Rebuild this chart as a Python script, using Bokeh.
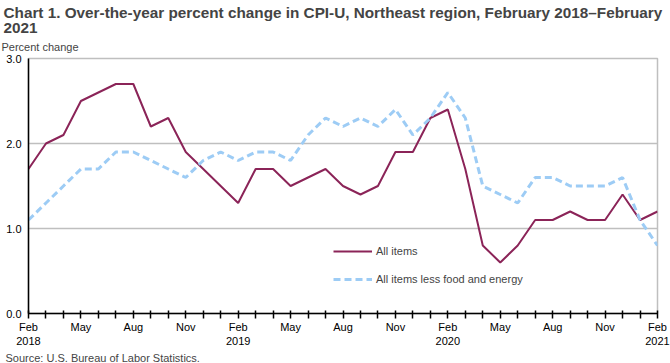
from bokeh.plotting import figure
from bokeh.models import (ColumnDataSource, FixedTicker, Range1d, Title, Legend, LegendItem,
                          NumeralTickFormatter)
from bokeh.embed import file_html
from bokeh.resources import INLINE

# ---- data ----
months = ["Feb 2018", "Mar 2018", "Apr 2018", "May 2018", "Jun 2018", "Jul 2018", "Aug 2018",
          "Sep 2018", "Oct 2018", "Nov 2018", "Dec 2018", "Jan 2019", "Feb 2019", "Mar 2019",
          "Apr 2019", "May 2019", "Jun 2019", "Jul 2019", "Aug 2019", "Sep 2019", "Oct 2019",
          "Nov 2019", "Dec 2019", "Jan 2020", "Feb 2020", "Mar 2020", "Apr 2020", "May 2020",
          "Jun 2020", "Jul 2020", "Aug 2020", "Sep 2020", "Oct 2020", "Nov 2020", "Dec 2020",
          "Jan 2021", "Feb 2021"]
all_items = [1.7, 2.0, 2.1, 2.5, 2.6, 2.7, 2.7, 2.2, 2.3, 1.9, 1.7, 1.5, 1.3, 1.7, 1.7, 1.5,
             1.6, 1.7, 1.5, 1.4, 1.5, 1.9, 1.9, 2.3, 2.4, 1.7, 0.8, 0.6, 0.8, 1.1, 1.1, 1.2,
             1.1, 1.1, 1.4, 1.1, 1.2]
core = [1.1, 1.3, 1.5, 1.7, 1.7, 1.9, 1.9, 1.8, 1.7, 1.6, 1.8, 1.9, 1.8, 1.9, 1.9, 1.8,
        2.1, 2.3, 2.2, 2.3, 2.2, 2.4, 2.1, 2.3, 2.6, 2.3, 1.5, 1.4, 1.3, 1.6, 1.6, 1.5,
        1.5, 1.5, 1.6, 1.1, 0.8]
x_tick_labels = {0: "Feb\n2018", 3: "May", 6: "Aug", 9: "Nov", 12: "Feb\n2019", 15: "May",
                 18: "Aug", 21: "Nov", 24: "Feb\n2020", 27: "May", 30: "Aug", 33: "Nov",
                 36: "Feb\n2021"}
y_ticks = [0, 1, 2, 3]

FONT = "Liberation Sans"
MAROON = "#8B2458"
BLUE = "#9DCCF5"

src = ColumnDataSource(dict(x=list(range(len(months))), month=months, all=all_items, core=core))

p = figure(width=670, height=363, output_backend="svg", toolbar_location=None,
           x_range=Range1d(0, len(months) - 1), y_range=Range1d(0, 3),
           min_border_left=28, min_border_right=13, min_border_top=58, min_border_bottom=49)
p.background_fill_color = "white"
p.border_fill_color = "white"
p.outline_line_color = "#BFBFBF"
p.outline_line_width = 1.5

l1 = p.line("x", "all", source=src, line_color=MAROON, line_width=2)
l2 = p.line("x", "core", source=src, line_color=BLUE, line_width=3, line_dash="7 4")

# axes
xa = p.xaxis[0]
xa.ticker = FixedTicker(ticks=list(range(len(months))))
xa.major_label_overrides = {i: x_tick_labels.get(i, "") for i in range(len(months))}
xa.major_tick_in = 3
xa.major_tick_out = 5
xa.minor_tick_line_color = None
xa.axis_line_color = "black"
xa.axis_line_width = 1.5
xa.major_tick_line_color = "black"
xa.major_tick_line_width = 1.5
xa.major_label_text_font = FONT
xa.major_label_text_font_size = "11px"
xa.major_label_text_color = "black"
xa.major_label_standoff = 2

ya = p.yaxis[0]
ya.ticker = FixedTicker(ticks=y_ticks)
ya.formatter = NumeralTickFormatter(format="0.0")
ya.major_tick_in = 0
ya.major_tick_out = 0
ya.minor_tick_line_color = None
ya.axis_line_color = "black"
ya.axis_line_width = 1.5
ya.major_label_text_font = FONT
ya.major_label_text_font_size = "11px"
ya.major_label_text_color = "black"
ya.major_label_standoff = 7

p.xgrid.grid_line_color = None
p.ygrid.ticker = FixedTicker(ticks=y_ticks)
p.ygrid.grid_line_color = "#BFBFBF"
p.ygrid.grid_line_width = 1.5

# titles (first added is closest to the plot)
p.add_layout(Title(text="Percent change", text_font=FONT, text_font_size="11px",
                   text_font_style="normal", align="left", offset=-27, standoff=11), "above")
p.add_layout(Title(text="2021", text_font=FONT, text_font_size="15.3px",
                   text_font_style="bold", align="left", offset=-25, standoff=1), "above")
p.add_layout(Title(text="Chart 1. Over-the-year percent change in CPI-U, Northeast region, February 2018\u2013February",
                   text_font=FONT, text_font_size="15.3px", text_font_style="bold",
                   align="left", offset=-25, standoff=0), "above")
p.add_layout(Title(text="Source: U.S. Bureau of Labor Statistics.", text_font=FONT,
                   text_font_size="11px", text_font_style="normal", align="left",
                   offset=-23, standoff=0), "below")

legend = Legend(items=[LegendItem(label="All items", renderers=[l1]),
                       LegendItem(label="All items less food and energy", renderers=[l2])],
                location=(305, 27), orientation="vertical", padding=0, margin=0,
                spacing=14, glyph_width=39, glyph_height=14, label_height=14,
                label_standoff=4, label_text_font=FONT, label_text_font_size="11px",
                border_line_color=None, background_fill_alpha=0)
p.add_layout(legend, "center")

open("out.html", "w").write(file_html(p, INLINE))
